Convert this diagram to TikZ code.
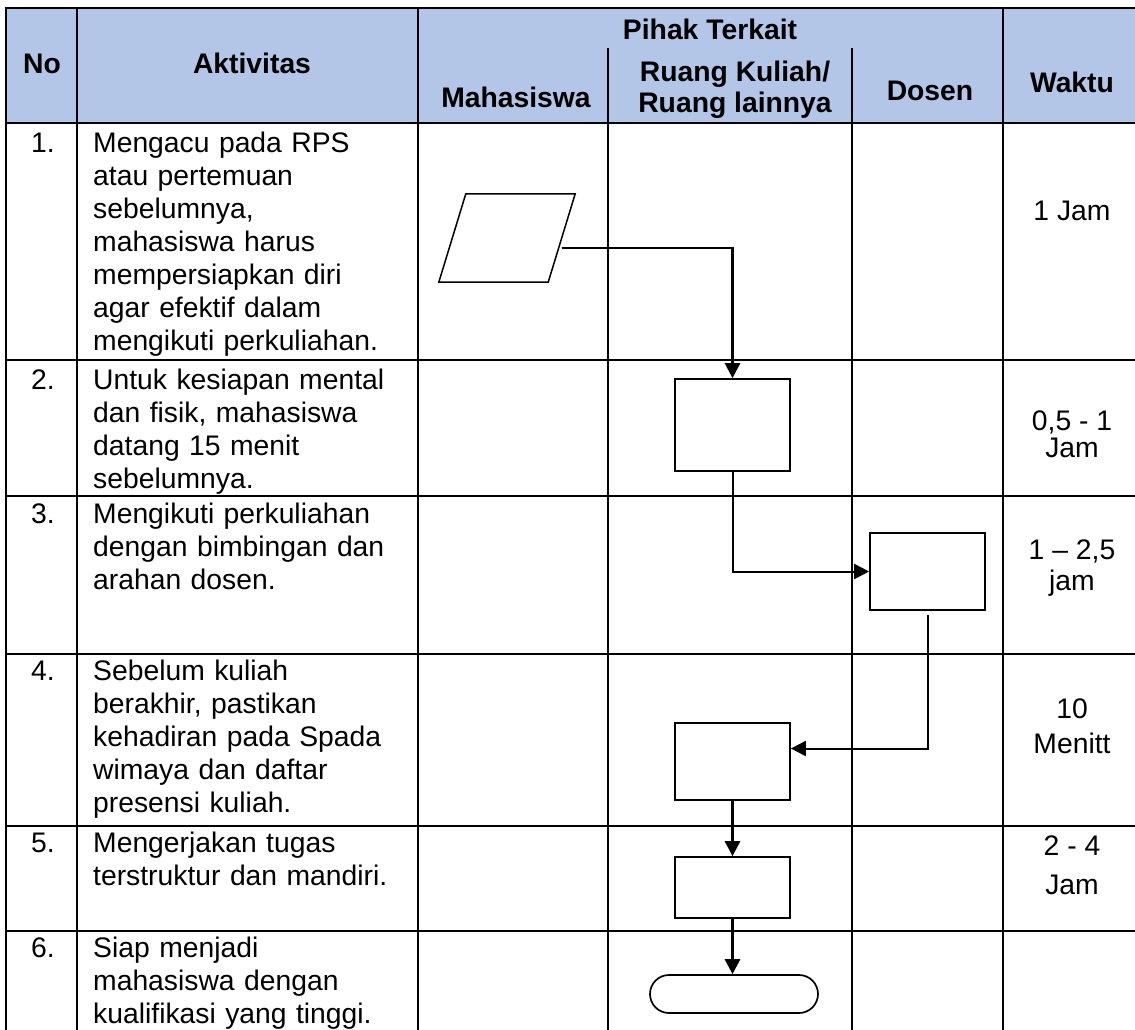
\documentclass[tikz,border=0pt]{standalone}
\usepackage{fontspec}
\setmainfont{Liberation Sans}
\usetikzlibrary{arrows.meta}
\definecolor{hdrblue}{HTML}{B4C6E7}
\begin{document}
\begin{tikzpicture}[x=1pt,y=-1pt,
  gridline/.style={line width=2pt, line cap=rect},
  txt/.style={font=\fontsize{28.3}{33}\selectfont, inner sep=0pt},
  hd/.style={font=\fontsize{28.3}{31}\selectfont\bfseries, inner sep=0pt, anchor=base, align=center},
  act/.style={txt, anchor=base west, text width=322pt, align=left},
  num/.style={txt, anchor=base west},
  wkt/.style={txt, anchor=base, align=center},
  procbox/.style={draw, line width=1.7pt, minimum width=115pt, inner sep=0pt},
  iobody/.style={inner sep=0pt, minimum width=109pt, minimum height=88pt},
  ioline/.style={line width=1.5pt, line join=miter},
  endbox/.style={draw, line width=1.7pt, rounded corners=19pt, minimum width=168pt, minimum height=38pt, inner sep=0pt},
  conn/.style={line width=2pt, -{Triangle[length=15pt,width=15pt]}},
  connthick/.style={line width=2.8pt, -{Triangle[length=15pt,width=15pt]}}
]
\useasboundingbox (0,0) rectangle (1135,1030);
% header fill
\fill[hdrblue] (6,8) rectangle (1135,123);
% table grid
\begin{scope}
\clip (0,0) rectangle (1135,1030);
\begin{scope}[gridline]
\draw (6,8) -- (1140,8);
\foreach \yy in {123,360,496,654,826,931} \draw (6,\yy) -- (1140,\yy);
\foreach \xx in {6,77,418,1003} \draw (\xx,8) -- (\xx,1035);
\foreach \xx in {608,852} \draw (\xx,49) -- (\xx,1035);
\end{scope}
\end{scope}
% header texts
\node[hd] (hno) at (42,74) {No};
\node[hd] (hakt) at (252,74) {Aktivitas};
\node[hd] (hpihak) at (710,40) {Pihak Terkait};
\node[hd] (hmhs) at (516,108) {Mahasiswa};
\node[hd] (hruang) at (735,113) {Ruang Kuliah/\\Ruang lainnya};
\node[hd] (hdosen) at (930,101) {Dosen};
\node[hd] (hwaktu) at (1072,93) {Waktu};
% numbers
\node[num] (n1) at (31,153) {1.};
\node[num] (n2) at (31,389) {2.};
\node[num] (n3) at (31,523) {3.};
\node[num] (n4) at (31,680) {4.};
\node[num] (n5) at (31,852) {5.};
\node[num] (n6) at (31,957) {6.};
% activities
\node[act] (a1) at (93,153) {Mengacu pada RPS\\atau pertemuan\\sebelumnya,\\mahasiswa harus\\mempersiapkan diri\\agar efektif dalam\\mengikuti perkuliahan.};
\node[act] (a2) at (93,389) {Untuk kesiapan mental\\dan fisik, mahasiswa\\datang 15 menit\\sebelumnya.};
\node[act] (a3) at (93,523) {Mengikuti perkuliahan\\dengan bimbingan dan\\arahan dosen.};
\node[act] (a4) at (93,680) {Sebelum kuliah\\berakhir, pastikan\\kehadiran pada Spada\\wimaya dan daftar\\presensi kuliah.};
\node[act] (a5) at (93,852) {Mengerjakan tugas\\terstruktur dan mandiri.};
\node[act] (a6) at (93,957) {Siap menjadi\\mahasiswa dengan\\kualifikasi yang tinggi.};
% waktu (anchored at the baseline of the last line)
\node[wkt] (w1) at (1072,220) {1 Jam};
\node[wkt] (w2) at (1072,457) {0,5 - 1\\[-6pt]Jam};
\node[wkt] (w3) at (1072,590) {1 – 2,5\\[-2pt]jam};
\node[wkt] (w4) at (1072,753) {10\\[2pt]Menitt};
\node[wkt] (w5) at (1072,894) {2 - 4\\[6pt]Jam};
% flowchart shapes
\node[iobody] (p1) at (507,238) {};
\draw[ioline] ([xshift=-13.5pt]p1.south west) -- ([xshift=13.5pt]p1.north west)
   -- ([xshift=13.5pt]p1.north east) -- ([xshift=-13.5pt]p1.south east) -- cycle;
\node[procbox, minimum height=92pt] (b2) at (732.5,425) {};
\node[procbox, minimum height=77pt] (b3) at (927.5,571.5) {};
\node[procbox, minimum height=77pt] (b4) at (732.5,761.5) {};
\node[procbox, minimum height=61pt] (b5) at (732.5,887.5) {};
\node[endbox] (t6) at (734,994) {};
% connectors
\draw[conn, line width=2.4pt] ([yshift=-10pt]p1.east) -| (b2.north);
\draw[conn] (b2.south) |- (b3.west);
\draw[conn] ([yshift=-4pt]b3.south) |- ([yshift=13pt]b4.east);
\draw[connthick] (b4.south) -- (b5.north);
\draw[connthick] (b5.south) -- (b5.south |- t6.north);
\end{tikzpicture}
\end{document}
